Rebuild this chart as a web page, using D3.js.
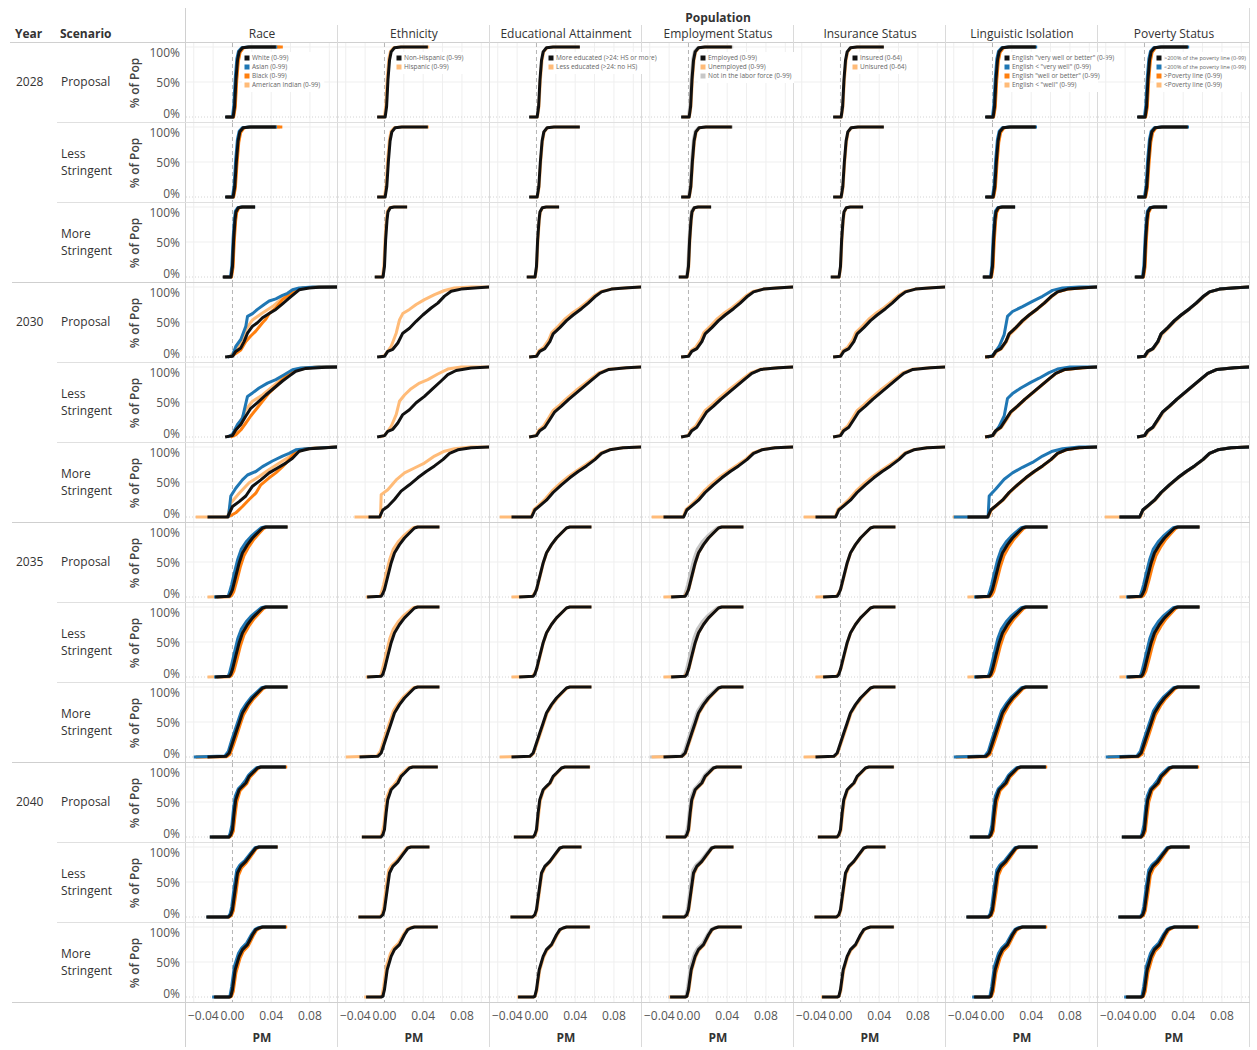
<!DOCTYPE html>
<html>
<head>
<meta charset="utf-8">
<script src="https://cdn.jsdelivr.net/npm/d3@7"></script>
<style>
  body { margin: 0; background: #fff; }
  svg text { font-family: "Open Sans", "Noto Sans", sans-serif; }
</style>
</head>
<body>
<svg id="chart" width="1257" height="1050"></svg>
<script>
// ---- dimensions of the small-multiple grid ----
const years = ["2028", "2030", "2035", "2040"];
const scenarios = ["Proposal", "Less Stringent", "More Stringent"];
const categories = ["Race", "Ethnicity", "Educational Attainment", "Employment Status",
                    "Insurance Status", "Linguistic Isolation", "Poverty Status"];
const groupLabels = [
  ["White (0-99)", "Asian (0-99)", "Black (0-99)", "American Indian (0-99)"],
  ["Non-Hispanic (0-99)", "Hispanic (0-99)"],
  ["More educated (>24: HS or more)", "Less educated (>24: no HS)"],
  ["Employed (0-99)", "Unemployed (0-99)", "Not in the labor force (0-99)"],
  ["Insured (0-64)", "Unisured (0-64)"],
  ['English "very well or better" (0-99)', 'English < "very well" (0-99)',
   'English "well or better" (0-99)', 'English < "well" (0-99)'],
  [">200% of the poverty line (0-99)", "<200% of the poverty line (0-99)",
   ">Poverty line (0-99)", "<Poverty line (0-99)"]
];
// which distribution each group follows within a row
const groupRoles = [
  ["white", "asian", "black", "amind"],
  ["nonHisp", "hisp"],
  ["main", "alt"],
  ["main", "alt", "lean"],
  ["main", "alt"],
  ["main", "limEng", "lag", "tail"],
  ["main", "lean", "lag", "tail"]
];
const xTicks = [-0.04, 0, 0.04, 0.08];
const xGrid = [-0.04, -0.02, 0.02, 0.04, 0.06, 0.08, 0.10];
const yTicks = [0, 0.5, 1];

// ---- cumulative share of population by PM change: [pm, share] ----
// 2028
const c28P_main  = [[-0.0076,0],[0.0007,0],[0.0022,0.15],[0.0036,0.53],[0.0052,0.81],[0.0069,0.93],[0.0103,0.99],[0.017,1],[0.0448,1]];
const c28P_lean  = [[-0.007,0],[0,0],[0.0014,0.17],[0.0029,0.56],[0.0045,0.83],[0.0062,0.94],[0.0095,0.99],[0.016,1],[0.0462,1]];
const c28P_lag   = [[-0.006,0],[0.0012,0],[0.0029,0.14],[0.0043,0.5],[0.006,0.79],[0.0078,0.92],[0.0115,0.99],[0.019,1],[0.0445,1]];
const c28P_tail  = [[-0.0065,0],[0.001,0],[0.0026,0.15],[0.004,0.52],[0.0057,0.8],[0.0074,0.93],[0.011,0.99],[0.018,1],[0.0445,1]];
const c28P_raceB = [[-0.006,0],[0.0012,0],[0.0029,0.14],[0.0043,0.5],[0.006,0.79],[0.0078,0.92],[0.0115,0.99],[0.019,1],[0.052,1]];
const c28P_raceAI= [[-0.0065,0],[0.001,0],[0.0026,0.15],[0.004,0.52],[0.0057,0.8],[0.0074,0.93],[0.011,0.99],[0.018,1],[0.0495,1]];
const c28L_main  = [[-0.0076,0],[0.0007,0],[0.0024,0.15],[0.004,0.5],[0.0058,0.8],[0.0076,0.93],[0.011,0.99],[0.018,1],[0.0448,1]];
const c28L_lean  = [[-0.007,0],[0,0],[0.0017,0.16],[0.0033,0.53],[0.0051,0.82],[0.0069,0.94],[0.0102,0.99],[0.017,1],[0.046,1]];
const c28L_lag   = [[-0.006,0],[0.0012,0],[0.003,0.13],[0.0047,0.48],[0.0065,0.78],[0.0084,0.92],[0.012,0.99],[0.02,1],[0.0445,1]];
const c28L_tail  = [[-0.0065,0],[0.001,0],[0.0027,0.14],[0.0044,0.5],[0.0062,0.79],[0.008,0.93],[0.0115,0.99],[0.019,1],[0.0445,1]];
const c28L_raceB = [[-0.006,0],[0.0012,0],[0.003,0.13],[0.0047,0.48],[0.0065,0.78],[0.0084,0.92],[0.012,0.99],[0.02,1],[0.0515,1]];
const c28L_raceAI= [[-0.0065,0],[0.001,0],[0.0027,0.14],[0.0044,0.5],[0.0062,0.79],[0.008,0.93],[0.0115,0.99],[0.019,1],[0.049,1]];
const c28M_main  = [[-0.0101,0],[-0.0015,0],[0,0.15],[0.0012,0.53],[0.0026,0.81],[0.0036,0.93],[0.006,0.99],[0.01,1],[0.0234,1]];
const c28M_lean  = [[-0.0095,0],[-0.002,0],[-0.0006,0.17],[0.0007,0.56],[0.002,0.83],[0.003,0.94],[0.0055,0.99],[0.009,1],[0.0234,1]];
const c28M_lag   = [[-0.009,0],[-0.001,0],[0.0006,0.14],[0.0018,0.5],[0.0032,0.79],[0.0043,0.92],[0.0068,0.99],[0.011,1],[0.0232,1]];
const c28M_tail  = [[-0.0095,0],[-0.0012,0],[0.0003,0.15],[0.0015,0.52],[0.0029,0.8],[0.004,0.93],[0.0064,0.99],[0.0105,1],[0.0232,1]];

// 2030
const c30P_white  = [[-0.0076,0],[0,0.01],[0.0034,0.08],[0.0086,0.13],[0.012,0.22],[0.0155,0.34],[0.0207,0.44],[0.0258,0.49],[0.031,0.56],[0.0379,0.62],[0.0448,0.68],[0.0517,0.76],[0.0585,0.84],[0.0654,0.92],[0.0689,0.96],[0.079,0.985],[0.0895,0.995],[0.109,1]];
const c30P_asian  = [[-0.005,0],[0,0.02],[0.0034,0.15],[0.0086,0.25],[0.0138,0.44],[0.0155,0.58],[0.0207,0.62],[0.0258,0.68],[0.0327,0.75],[0.0379,0.8],[0.0448,0.83],[0.0517,0.88],[0.0568,0.91],[0.062,0.96],[0.0689,0.985],[0.0826,1],[0.109,1]];
const c30P_black  = [[-0.002,0],[0.0034,0.05],[0.0086,0.1],[0.0138,0.22],[0.0189,0.3],[0.0241,0.37],[0.031,0.49],[0.0344,0.54],[0.0379,0.62],[0.0448,0.7],[0.0517,0.82],[0.0585,0.89],[0.0654,0.95],[0.0723,0.985],[0.0895,1],[0.109,1]];
const c30P_amind  = [[-0.003,0],[0.0034,0.1],[0.0086,0.2],[0.0138,0.39],[0.0207,0.53],[0.031,0.63],[0.0413,0.72],[0.0517,0.84],[0.062,0.95],[0.0723,0.985],[0.09,1],[0.109,1]];
const c30P_nonHisp= [[-0.0076,0],[0,0.01],[0.0034,0.08],[0.0086,0.11],[0.0138,0.2],[0.0189,0.34],[0.0258,0.41],[0.0327,0.51],[0.0396,0.6],[0.0482,0.7],[0.0551,0.77],[0.062,0.87],[0.0689,0.94],[0.0792,0.97],[0.0964,0.99],[0.109,1]];
const c30P_hisp   = [[-0.005,0],[0,0.02],[0.0069,0.15],[0.0121,0.34],[0.0155,0.53],[0.0189,0.62],[0.0258,0.68],[0.0327,0.75],[0.0413,0.82],[0.0517,0.89],[0.062,0.95],[0.0723,0.985],[0.0895,1],[0.109,1]];
const c30P_limEng = [[-0.005,0],[0,0.02],[0.0069,0.15],[0.0121,0.32],[0.0155,0.58],[0.0207,0.65],[0.031,0.72],[0.0413,0.795],[0.0517,0.867],[0.062,0.952],[0.0723,0.985],[0.0895,1],[0.109,1]];
const c30P_main   = [[-0.0076,0],[0,0.01],[0.0034,0.08],[0.0086,0.12],[0.0138,0.22],[0.0172,0.33],[0.0241,0.42],[0.031,0.52],[0.0379,0.6],[0.0465,0.69],[0.0534,0.77],[0.0603,0.86],[0.0672,0.93],[0.0775,0.97],[0.0946,0.99],[0.109,1]];
const c30P_alt    = [[-0.0076,0],[-0.0005,0.01],[0.0025,0.09],[0.0075,0.14],[0.0125,0.24],[0.0158,0.35],[0.0224,0.44],[0.0292,0.54],[0.0362,0.62],[0.045,0.705],[0.052,0.785],[0.0592,0.87],[0.0665,0.935],[0.0772,0.97],[0.0946,0.99],[0.109,1]];
const c30P_tail   = [[-0.006,0],[0.001,0.01],[0.0045,0.08],[0.0095,0.12],[0.0145,0.22],[0.0178,0.32],[0.0245,0.41],[0.0315,0.51],[0.0385,0.6],[0.047,0.69],[0.054,0.77],[0.061,0.86],[0.068,0.93],[0.078,0.97],[0.095,0.99],[0.109,1]];

const c30L_white  = [[-0.0076,0],[0,0.02],[0.0034,0.1],[0.0086,0.18],[0.0138,0.3],[0.0189,0.41],[0.0258,0.49],[0.0344,0.6],[0.043,0.7],[0.0517,0.8],[0.0585,0.87],[0.0654,0.94],[0.0758,0.98],[0.0964,0.995],[0.109,1]];
const c30L_asian  = [[-0.005,0],[0,0.04],[0.0052,0.18],[0.0103,0.27],[0.0155,0.58],[0.0207,0.63],[0.0275,0.7],[0.0362,0.77],[0.0448,0.82],[0.0534,0.89],[0.062,0.96],[0.0706,0.985],[0.0895,1],[0.109,1]];
const c30L_black  = [[-0.002,0],[0.0034,0.03],[0.0086,0.1],[0.0138,0.2],[0.0189,0.3],[0.0241,0.39],[0.031,0.51],[0.0379,0.63],[0.0448,0.72],[0.0517,0.82],[0.0585,0.9],[0.0654,0.95],[0.0758,0.985],[0.0895,1],[0.109,1]];
const c30L_amind  = [[-0.003,0],[0.0034,0.08],[0.0138,0.39],[0.0207,0.51],[0.031,0.6],[0.0413,0.72],[0.0517,0.84],[0.062,0.95],[0.0723,0.985],[0.09,1],[0.109,1]];
const c30L_nonHisp= [[-0.0076,0],[0,0.02],[0.0034,0.08],[0.0086,0.11],[0.0138,0.2],[0.0189,0.32],[0.0258,0.39],[0.0327,0.49],[0.0413,0.58],[0.0499,0.69],[0.0585,0.8],[0.0654,0.89],[0.074,0.95],[0.0895,0.985],[0.109,1]];
const c30L_hisp   = [[-0.005,0],[0,0.02],[0.0069,0.15],[0.0121,0.32],[0.0155,0.51],[0.0207,0.6],[0.0275,0.69],[0.0362,0.77],[0.0448,0.82],[0.0551,0.9],[0.0654,0.97],[0.0792,1],[0.109,1]];
const c30L_limEng = [[-0.005,0],[0,0.02],[0.0069,0.15],[0.0121,0.3],[0.0155,0.55],[0.0207,0.62],[0.0293,0.7],[0.0396,0.78],[0.0482,0.84],[0.0585,0.92],[0.0672,0.97],[0.08,1],[0.109,1]];
const c30L_main   = [[-0.0076,0],[0,0.02],[0.0034,0.09],[0.0086,0.14],[0.0138,0.25],[0.0189,0.36],[0.0258,0.44],[0.0336,0.54],[0.0422,0.64],[0.0508,0.74],[0.0585,0.83],[0.0654,0.91],[0.0749,0.965],[0.0929,0.99],[0.109,1]];
const c30L_alt    = [[-0.0076,0],[-0.0005,0.02],[0.0025,0.1],[0.0075,0.16],[0.0125,0.27],[0.0174,0.38],[0.0242,0.46],[0.032,0.56],[0.0405,0.66],[0.0492,0.755],[0.057,0.84],[0.0642,0.915],[0.074,0.967],[0.0929,0.99],[0.109,1]];
const c30L_tail   = [[-0.006,0],[0.001,0.02],[0.0045,0.09],[0.0095,0.14],[0.0148,0.25],[0.0198,0.36],[0.0265,0.44],[0.0342,0.54],[0.0428,0.64],[0.0512,0.74],[0.0588,0.83],[0.0658,0.91],[0.0752,0.965],[0.093,0.99],[0.109,1]];

const c30M_white  = [[-0.0258,0],[-0.005,0],[0,0.15],[0.0069,0.22],[0.0138,0.3],[0.0207,0.44],[0.0293,0.53],[0.0379,0.63],[0.0465,0.7],[0.0551,0.77],[0.062,0.84],[0.0689,0.94],[0.0792,0.975],[0.109,1]];
const c30M_asian  = [[-0.005,0],[-0.0041,0.01],[-0.0017,0.3],[0.0034,0.41],[0.0103,0.53],[0.0155,0.6],[0.0241,0.65],[0.031,0.72],[0.0413,0.8],[0.0517,0.87],[0.0585,0.91],[0.0654,0.96],[0.0758,0.975],[0.109,1]];
const c30M_black  = [[-0.0045,0],[0.0034,0.06],[0.0103,0.15],[0.0172,0.25],[0.0241,0.34],[0.0293,0.46],[0.0379,0.56],[0.0448,0.63],[0.0517,0.72],[0.0585,0.82],[0.0654,0.94],[0.0758,0.975],[0.109,1]];
const c30M_amind  = [[-0.038,0],[-0.005,0],[-0.0017,0.2],[0.0069,0.34],[0.0172,0.49],[0.0276,0.58],[0.0379,0.68],[0.0517,0.8],[0.062,0.89],[0.0723,0.96],[0.085,0.985],[0.109,1]];
const c30M_nonHisp= [[-0.0165,0],[-0.005,0],[-0.0017,0.1],[0.0034,0.15],[0.0103,0.25],[0.0172,0.37],[0.0258,0.46],[0.0344,0.56],[0.0431,0.65],[0.0517,0.73],[0.0603,0.82],[0.0672,0.91],[0.0758,0.96],[0.0895,0.99],[0.109,1]];
const c30M_hisp   = [[-0.031,0],[-0.0041,0],[-0.0034,0.32],[0.0034,0.39],[0.0121,0.53],[0.0207,0.63],[0.031,0.7],[0.0413,0.77],[0.0517,0.87],[0.062,0.94],[0.0723,0.975],[0.0895,1],[0.109,1]];
const c30M_limEng = [[-0.04,0],[-0.0045,0],[-0.0034,0.3],[0.0034,0.4],[0.0121,0.54],[0.0207,0.63],[0.031,0.71],[0.0413,0.78],[0.0517,0.87],[0.062,0.94],[0.0723,0.975],[0.0895,1],[0.109,1]];
const c30M_main   = [[-0.0258,0],[-0.005,0],[-0.0017,0.1],[0.0034,0.16],[0.0103,0.24],[0.0172,0.35],[0.0258,0.46],[0.0344,0.56],[0.0431,0.65],[0.0517,0.73],[0.0603,0.82],[0.0672,0.91],[0.0758,0.96],[0.0895,0.99],[0.109,1]];
const c30M_alt    = [[-0.038,0],[-0.0055,0],[-0.0025,0.11],[0.0025,0.17],[0.0093,0.26],[0.016,0.37],[0.0245,0.48],[0.0332,0.58],[0.042,0.665],[0.0508,0.745],[0.0595,0.83],[0.0666,0.915],[0.0755,0.962],[0.0895,0.99],[0.109,1]];
const c30M_tail   = [[-0.041,0],[-0.004,0],[-0.001,0.1],[0.0042,0.16],[0.011,0.24],[0.018,0.35],[0.0265,0.46],[0.035,0.56],[0.0438,0.65],[0.0522,0.73],[0.0607,0.82],[0.0676,0.91],[0.076,0.96],[0.09,0.99],[0.109,1]];

// 2035
const c35P_main = [[-0.0179,0],[-0.0034,0.01],[-0.0017,0.05],[0,0.105],[0.0034,0.295],[0.0069,0.486],[0.0103,0.629],[0.0155,0.748],[0.0207,0.843],[0.0258,0.914],[0.031,0.986],[0.0344,1],[0.0568,1]];
const c35P_lean = [[-0.019,0],[-0.0045,0.01],[-0.003,0.07],[-0.001,0.17],[0.0022,0.36],[0.0055,0.54],[0.009,0.68],[0.014,0.785],[0.0192,0.865],[0.0245,0.93],[0.0298,0.99],[0.033,1],[0.0568,1]];
const c35P_lag  = [[-0.016,0],[-0.0025,0.005],[-0.0006,0.03],[0.0014,0.08],[0.0048,0.25],[0.0083,0.44],[0.0118,0.59],[0.017,0.72],[0.0222,0.825],[0.0272,0.905],[0.0322,0.98],[0.0358,1],[0.057,1]];
const c35P_tail = [[-0.0258,0],[-0.0045,0.008],[-0.0022,0.05],[0.0006,0.12],[0.004,0.31],[0.0074,0.5],[0.0108,0.64],[0.016,0.755],[0.0212,0.85],[0.0262,0.92],[0.0313,0.987],[0.0348,1],[0.0568,1]];
const c35L_main = [[-0.0179,0],[-0.0034,0.01],[-0.0017,0.04],[0,0.11],[0.0034,0.3],[0.0069,0.49],[0.0103,0.63],[0.0155,0.75],[0.0207,0.845],[0.0258,0.915],[0.031,0.985],[0.0344,1],[0.0568,1]];
const c35L_lean = [[-0.019,0],[-0.0045,0.01],[-0.003,0.06],[-0.001,0.17],[0.0022,0.36],[0.0055,0.55],[0.009,0.68],[0.014,0.785],[0.0192,0.87],[0.0245,0.93],[0.0298,0.99],[0.033,1],[0.0568,1]];
const c35L_lag  = [[-0.016,0],[-0.0025,0.005],[-0.0006,0.03],[0.0014,0.085],[0.0048,0.26],[0.0083,0.45],[0.0118,0.6],[0.017,0.725],[0.0222,0.83],[0.0272,0.905],[0.0322,0.98],[0.0358,1],[0.057,1]];
const c35L_tail = [[-0.0258,0],[-0.0045,0.008],[-0.0022,0.045],[0.0006,0.12],[0.004,0.31],[0.0074,0.505],[0.0108,0.64],[0.016,0.76],[0.0212,0.85],[0.0262,0.92],[0.0313,0.987],[0.0348,1],[0.0568,1]];
const c35M_main = [[-0.0258,0],[-0.0069,0.01],[-0.0034,0.057],[0,0.2],[0.0034,0.343],[0.0069,0.486],[0.0103,0.629],[0.0155,0.748],[0.0207,0.843],[0.0258,0.914],[0.031,0.986],[0.0344,1],[0.0568,1]];
const c35M_lean = [[-0.04,0],[-0.0078,0.015],[-0.0043,0.08],[-0.0008,0.24],[0.0025,0.38],[0.006,0.52],[0.0094,0.66],[0.0146,0.77],[0.0198,0.86],[0.0249,0.925],[0.0301,0.99],[0.0335,1],[0.0568,1]];
const c35M_lag  = [[-0.038,0],[-0.006,0.005],[-0.0025,0.04],[0.001,0.17],[0.0044,0.31],[0.0079,0.46],[0.0113,0.6],[0.0165,0.73],[0.0217,0.83],[0.0268,0.905],[0.032,0.982],[0.0355,1],[0.057,1]];
const c35M_tail = [[-0.038,0],[-0.0065,0.008],[-0.003,0.05],[0.0005,0.19],[0.0039,0.33],[0.0074,0.475],[0.0108,0.62],[0.016,0.74],[0.0212,0.835],[0.0263,0.91],[0.0315,0.984],[0.035,1],[0.0568,1]];

// 2040
const c40P_main = [[-0.0234,0],[-0.0034,0],[-0.0017,0.033],[0,0.105],[0.0017,0.343],[0.0034,0.533],[0.0069,0.676],[0.0103,0.724],[0.0138,0.771],[0.0172,0.867],[0.0207,0.914],[0.0258,0.986],[0.0293,1],[0.0551,1]];
const c40P_lean = [[-0.0234,0],[-0.004,0],[-0.0025,0.05],[-0.0006,0.17],[0.0011,0.41],[0.0028,0.58],[0.006,0.69],[0.0095,0.74],[0.013,0.8],[0.0165,0.88],[0.02,0.93],[0.025,0.99],[0.0285,1],[0.0551,1]];
const c40P_lag  = [[-0.021,0],[-0.0028,0],[-0.001,0.025],[0.0008,0.08],[0.0026,0.3],[0.0044,0.5],[0.0078,0.66],[0.0112,0.71],[0.0147,0.76],[0.018,0.855],[0.0215,0.905],[0.0266,0.982],[0.03,1],[0.0565,1]];
const c40P_tail = [[-0.0234,0],[-0.0031,0],[-0.0013,0.03],[0.0005,0.095],[0.0022,0.32],[0.004,0.52],[0.0074,0.67],[0.0108,0.72],[0.0143,0.765],[0.0177,0.86],[0.0212,0.91],[0.0262,0.984],[0.0297,1],[0.0555,1]];
const c40L_main = [[-0.0269,0],[-0.0041,0],[-0.0017,0.033],[0,0.105],[0.0028,0.39],[0.0052,0.629],[0.0086,0.724],[0.0138,0.795],[0.0189,0.89],[0.0241,0.986],[0.0275,1],[0.0465,1]];
const c40L_lean = [[-0.0269,0],[-0.0047,0],[-0.0024,0.045],[-0.0007,0.15],[0.002,0.45],[0.0044,0.67],[0.0078,0.745],[0.013,0.81],[0.0181,0.9],[0.0233,0.99],[0.0267,1],[0.0465,1]];
const c40L_lag  = [[-0.025,0],[-0.0035,0],[-0.001,0.025],[0.0008,0.085],[0.0036,0.34],[0.006,0.59],[0.0094,0.7],[0.0146,0.78],[0.0197,0.88],[0.0249,0.982],[0.0283,1],[0.047,1]];
const c40L_tail = [[-0.0269,0],[-0.0038,0],[-0.0013,0.03],[0.0004,0.095],[0.0032,0.37],[0.0056,0.61],[0.009,0.715],[0.0142,0.79],[0.0193,0.885],[0.0245,0.984],[0.0279,1],[0.0468,1]];
const c40M_main = [[-0.019,0],[-0.0034,0],[-0.0017,0.01],[0,0.105],[0.0028,0.39],[0.0069,0.58],[0.0103,0.676],[0.0155,0.748],[0.0207,0.89],[0.0241,0.962],[0.0275,0.986],[0.031,1],[0.0551,1]];
const c40M_lean = [[-0.021,0],[-0.0042,0],[-0.0025,0.02],[-0.0008,0.15],[0.002,0.44],[0.0061,0.62],[0.0095,0.7],[0.0147,0.77],[0.0199,0.9],[0.0233,0.968],[0.0267,0.99],[0.0302,1],[0.0551,1]];
const c40M_lag  = [[-0.018,0],[-0.0027,0],[-0.001,0.01],[0.0008,0.08],[0.0036,0.35],[0.0077,0.55],[0.0111,0.655],[0.0163,0.73],[0.0215,0.875],[0.0249,0.955],[0.0283,0.984],[0.0318,1],[0.0565,1]];
const c40M_tail = [[-0.02,0],[-0.0031,0],[-0.0014,0.01],[0.0004,0.09],[0.0032,0.37],[0.0073,0.565],[0.0107,0.665],[0.0159,0.74],[0.0211,0.88],[0.0245,0.958],[0.0279,0.985],[0.0314,1],[0.0555,1]];

// row order: year x scenario
const rowCurves = [
  { main: c28P_main, lean: c28P_lean, lag: c28P_lag, tail: c28P_tail, black: c28P_raceB, amind: c28P_raceAI },
  { main: c28L_main, lean: c28L_lean, lag: c28L_lag, tail: c28L_tail, black: c28L_raceB, amind: c28L_raceAI },
  { main: c28M_main, lean: c28M_lean, lag: c28M_lag, tail: c28M_tail },
  { main: c30P_main, alt: c30P_alt, lean: c30P_main, lag: c30P_main, tail: c30P_tail,
    white: c30P_white, asian: c30P_asian, black: c30P_black, amind: c30P_amind,
    nonHisp: c30P_nonHisp, hisp: c30P_hisp, limEng: c30P_limEng },
  { main: c30L_main, alt: c30L_alt, lean: c30L_main, lag: c30L_main, tail: c30L_tail,
    white: c30L_white, asian: c30L_asian, black: c30L_black, amind: c30L_amind,
    nonHisp: c30L_nonHisp, hisp: c30L_hisp, limEng: c30L_limEng },
  { main: c30M_main, alt: c30M_alt, lean: c30M_main, lag: c30M_main, tail: c30M_tail,
    white: c30M_white, asian: c30M_asian, black: c30M_black, amind: c30M_amind,
    nonHisp: c30M_nonHisp, hisp: c30M_hisp, limEng: c30M_limEng },
  { main: c35P_main, lean: c35P_lean, lag: c35P_lag, tail: c35P_tail },
  { main: c35L_main, lean: c35L_lean, lag: c35L_lag, tail: c35L_tail },
  { main: c35M_main, lean: c35M_lean, lag: c35M_lag, tail: c35M_tail },
  { main: c40P_main, lean: c40P_lean, lag: c40P_lag, tail: c40P_tail },
  { main: c40L_main, lean: c40L_lean, lag: c40L_lag, tail: c40L_tail },
  { main: c40M_main, lean: c40M_lean, lag: c40M_lag, tail: c40M_tail }
];
const roleFallback = { white: "main", asian: "lean", black: "lag", amind: "tail",
                       nonHisp: "main", hisp: "lean", limEng: "lean", alt: "tail" };

// ---- styling ----
const BLUE = "#1f77b4", ORANGE = "#ff7f0e", LIGHT_ORANGE = "#ffbb78", GREY = "#c7c7c7", INK = "#111111";
const groupColors = [
  [INK, BLUE, ORANGE, LIGHT_ORANGE],
  [INK, LIGHT_ORANGE],
  [INK, LIGHT_ORANGE],
  [INK, LIGHT_ORANGE, GREY],
  [INK, LIGHT_ORANGE],
  [INK, BLUE, ORANGE, LIGHT_ORANGE],
  [INK, BLUE, ORANGE, LIGHT_ORANGE]
];

const colLeft0 = 186, colW = 152, rowTop0 = 43, rowH = 80;
const gridRight = colLeft0 + colW * categories.length;
const nRows = years.length * scenarios.length;
const gridBottom = rowTop0 + rowH * nRows;

const svg = d3.select("#chart");
const gLines = svg.append("g");
const gPanels = svg.append("g");
const gText = svg.append("g");

const xScale = c => d3.scaleLinear().domain([-0.048, 0.109])
  .range([colLeft0 + c * colW, colLeft0 + (c + 1) * colW]);
const yScale = r => d3.scaleLinear().domain([0, 1])
  .range([rowTop0 + r * rowH + 74, rowTop0 + r * rowH + 4]);

// ---- headers ----
gText.append("text").attr("x", (colLeft0 + gridRight) / 2).attr("y", 22)
  .attr("text-anchor", "middle").attr("font-size", 12).attr("font-weight", 700)
  .attr("fill", "#333").text("Population");
gText.append("text").attr("x", 15).attr("y", 38).attr("font-size", 12)
  .attr("font-weight", 700).attr("fill", "#333").text("Year");
gText.append("text").attr("x", 60).attr("y", 38).attr("font-size", 12)
  .attr("font-weight", 700).attr("fill", "#333").text("Scenario");
categories.forEach((c, i) => {
  gText.append("text").attr("x", colLeft0 + i * colW + colW / 2).attr("y", 38)
    .attr("text-anchor", "middle").attr("font-size", 12).attr("fill", "#333").text(c);
});

// ---- frame lines ----
const line = (x1, y1, x2, y2, color, w = 1) => gLines.append("line")
  .attr("x1", x1).attr("y1", y1).attr("x2", x2).attr("y2", y2)
  .attr("stroke", color).attr("stroke-width", w);
line(10, 42.5, gridRight, 42.5, "#d0d0d0");
line(colLeft0 - 0.5, 8, colLeft0 - 0.5, 1047, "#d0d0d0");
for (let c = 1; c <= categories.length; c++) {
  const x = colLeft0 + c * colW - 0.5;
  line(x, c === categories.length ? 8 : 25, x, 1047, "#dadada");
}
for (let r = 1; r <= nRows; r++) {
  const y = rowTop0 + r * rowH - 0.5;
  const yearEdge = r % scenarios.length === 0;
  line(yearEdge ? 12 : 57, y, gridRight, y, yearEdge ? "#cfcfcf" : "#e0e0e0");
}

// ---- panels ----
const lineGen = (x, y) => d3.line().x(d => x(d[0])).y(d => y(d[1])).curve(d3.curveLinear);

for (let r = 0; r < nRows; r++) {
  const top = rowTop0 + r * rowH;
  const y = yScale(r);
  const yearIdx = Math.floor(r / scenarios.length), scIdx = r % scenarios.length;

  // year / scenario labels
  if (scIdx === 0) {
    gText.append("text").attr("x", 16).attr("y", top + 43).attr("font-size", 12)
      .attr("fill", "#333").text(years[yearIdx]);
  }
  const words = scenarios[scIdx].split(" ");
  words.forEach((w, k) => {
    gText.append("text").attr("x", 61)
      .attr("y", top + 43 + (k - (words.length - 1) / 2) * 17)
      .attr("font-size", 12).attr("fill", "#333").text(w);
  });

  // y axis title and ticks
  gText.append("text").attr("transform", `translate(139,${top + 40}) rotate(-90)`)
    .attr("text-anchor", "middle").attr("font-size", 12).attr("font-weight", 600)
    .attr("fill", "#444").text("% of Pop");
  yTicks.forEach(t => {
    const cy = Math.min(Math.max(y(t), top + 9), top + 70.5);
    gText.append("text").attr("x", 180).attr("y", cy + 4.5).attr("text-anchor", "end")
      .attr("font-size", 12).attr("fill", "#555").text(d3.format(".0%")(t));
  });

  for (let c = 0; c < categories.length; c++) {
    const x = xScale(c);
    const left = colLeft0 + c * colW;
    const g = gPanels.append("g");
    const clipId = `clip-${r}-${c}`;
    g.append("clipPath").attr("id", clipId).append("rect")
      .attr("x", left).attr("y", top).attr("width", colW - 1).attr("height", rowH - 1);

    // gridlines
    xGrid.forEach(v => g.append("line").attr("x1", x(v)).attr("x2", x(v))
      .attr("y1", top).attr("y2", top + rowH - 1).attr("stroke", "#efefef"));
    [0.5, 1].forEach(v => g.append("line").attr("x1", left).attr("x2", left + colW - 1)
      .attr("y1", y(v)).attr("y2", y(v)).attr("stroke", "#efefef"));
    g.append("line").attr("x1", left).attr("x2", left + colW - 1)
      .attr("y1", y(0)).attr("y2", y(0)).attr("stroke", "#d4d4d4")
      .attr("stroke-dasharray", "1,2");
    g.append("line").attr("x1", x(0)).attr("x2", x(0)).attr("y1", top).attr("y2", top + rowH - 1)
      .attr("stroke", "#b5b5b5").attr("stroke-dasharray", "4,3");

    // cumulative curves: first group drawn last so it sits on top
    const roles = groupRoles[c];
    const curves = rowCurves[r];
    const cg = g.append("g").attr("clip-path", `url(#${clipId})`);
    for (let k = roles.length - 1; k >= 0; k--) {
      const data = curves[roles[k]] || curves[roleFallback[roles[k]]];
      cg.append("path").datum(data).attr("d", lineGen(x, y))
        .attr("fill", "none").attr("stroke", groupColors[c][k]).attr("stroke-width", 3)
        .attr("stroke-linejoin", "round").attr("stroke-linecap", "butt");
    }

    // legend inside the first row of panels
    if (r === 0) {
      const lx = left + 61, ly = top + 15, step = 9;
      const labels = groupLabels[c];
      const lg = g.append("g");
      const bg = lg.append("rect").attr("fill", "#fff");
      let maxW = 0;
      labels.forEach((lab, k) => {
        lg.append("rect").attr("x", lx - 2.5).attr("y", ly + k * step - 2.5)
          .attr("width", 5).attr("height", 5).attr("fill", groupColors[c][k]);
        const t = lg.append("text").attr("x", lx + 5).attr("y", ly + k * step + 2.3)
          .attr("font-size", 6.5).attr("fill", "#666").text(lab);
        let w = t.node().getComputedTextLength();
        const room = gridRight - 4 - (lx + 5);
        if (w > room) {
          // shrink the type so the label stays inside the panel
          t.attr("font-size", (6.5 * room / w).toFixed(2));
          w = t.node().getComputedTextLength();
        }
        maxW = Math.max(maxW, w);
      });
      bg.attr("x", lx - 5).attr("y", ly - 6)
        .attr("width", Math.min(maxW + 14, gridRight - 1 - (lx - 5))).attr("height", labels.length * step + 4);
    }
  }
}

// ---- bottom axis ----
for (let c = 0; c < categories.length; c++) {
  const x = xScale(c);
  const left = colLeft0 + c * colW;
  xTicks.forEach(v => {
    const t = gText.append("text").attr("y", gridBottom + 17).attr("font-size", 12)
      .attr("fill", "#555").attr("text-anchor", "middle").text(d3.format(".2f")(v));
    const w = t.node().getComputedTextLength();
    const cx = Math.max(x(v), left + 2 + w / 2);
    t.attr("x", cx);
  });
  gText.append("text").attr("x", left + colW / 2).attr("y", gridBottom + 39)
    .attr("text-anchor", "middle").attr("font-size", 12).attr("font-weight", 700)
    .attr("fill", "#333").text("PM");
}
</script>
</body>
</html>
